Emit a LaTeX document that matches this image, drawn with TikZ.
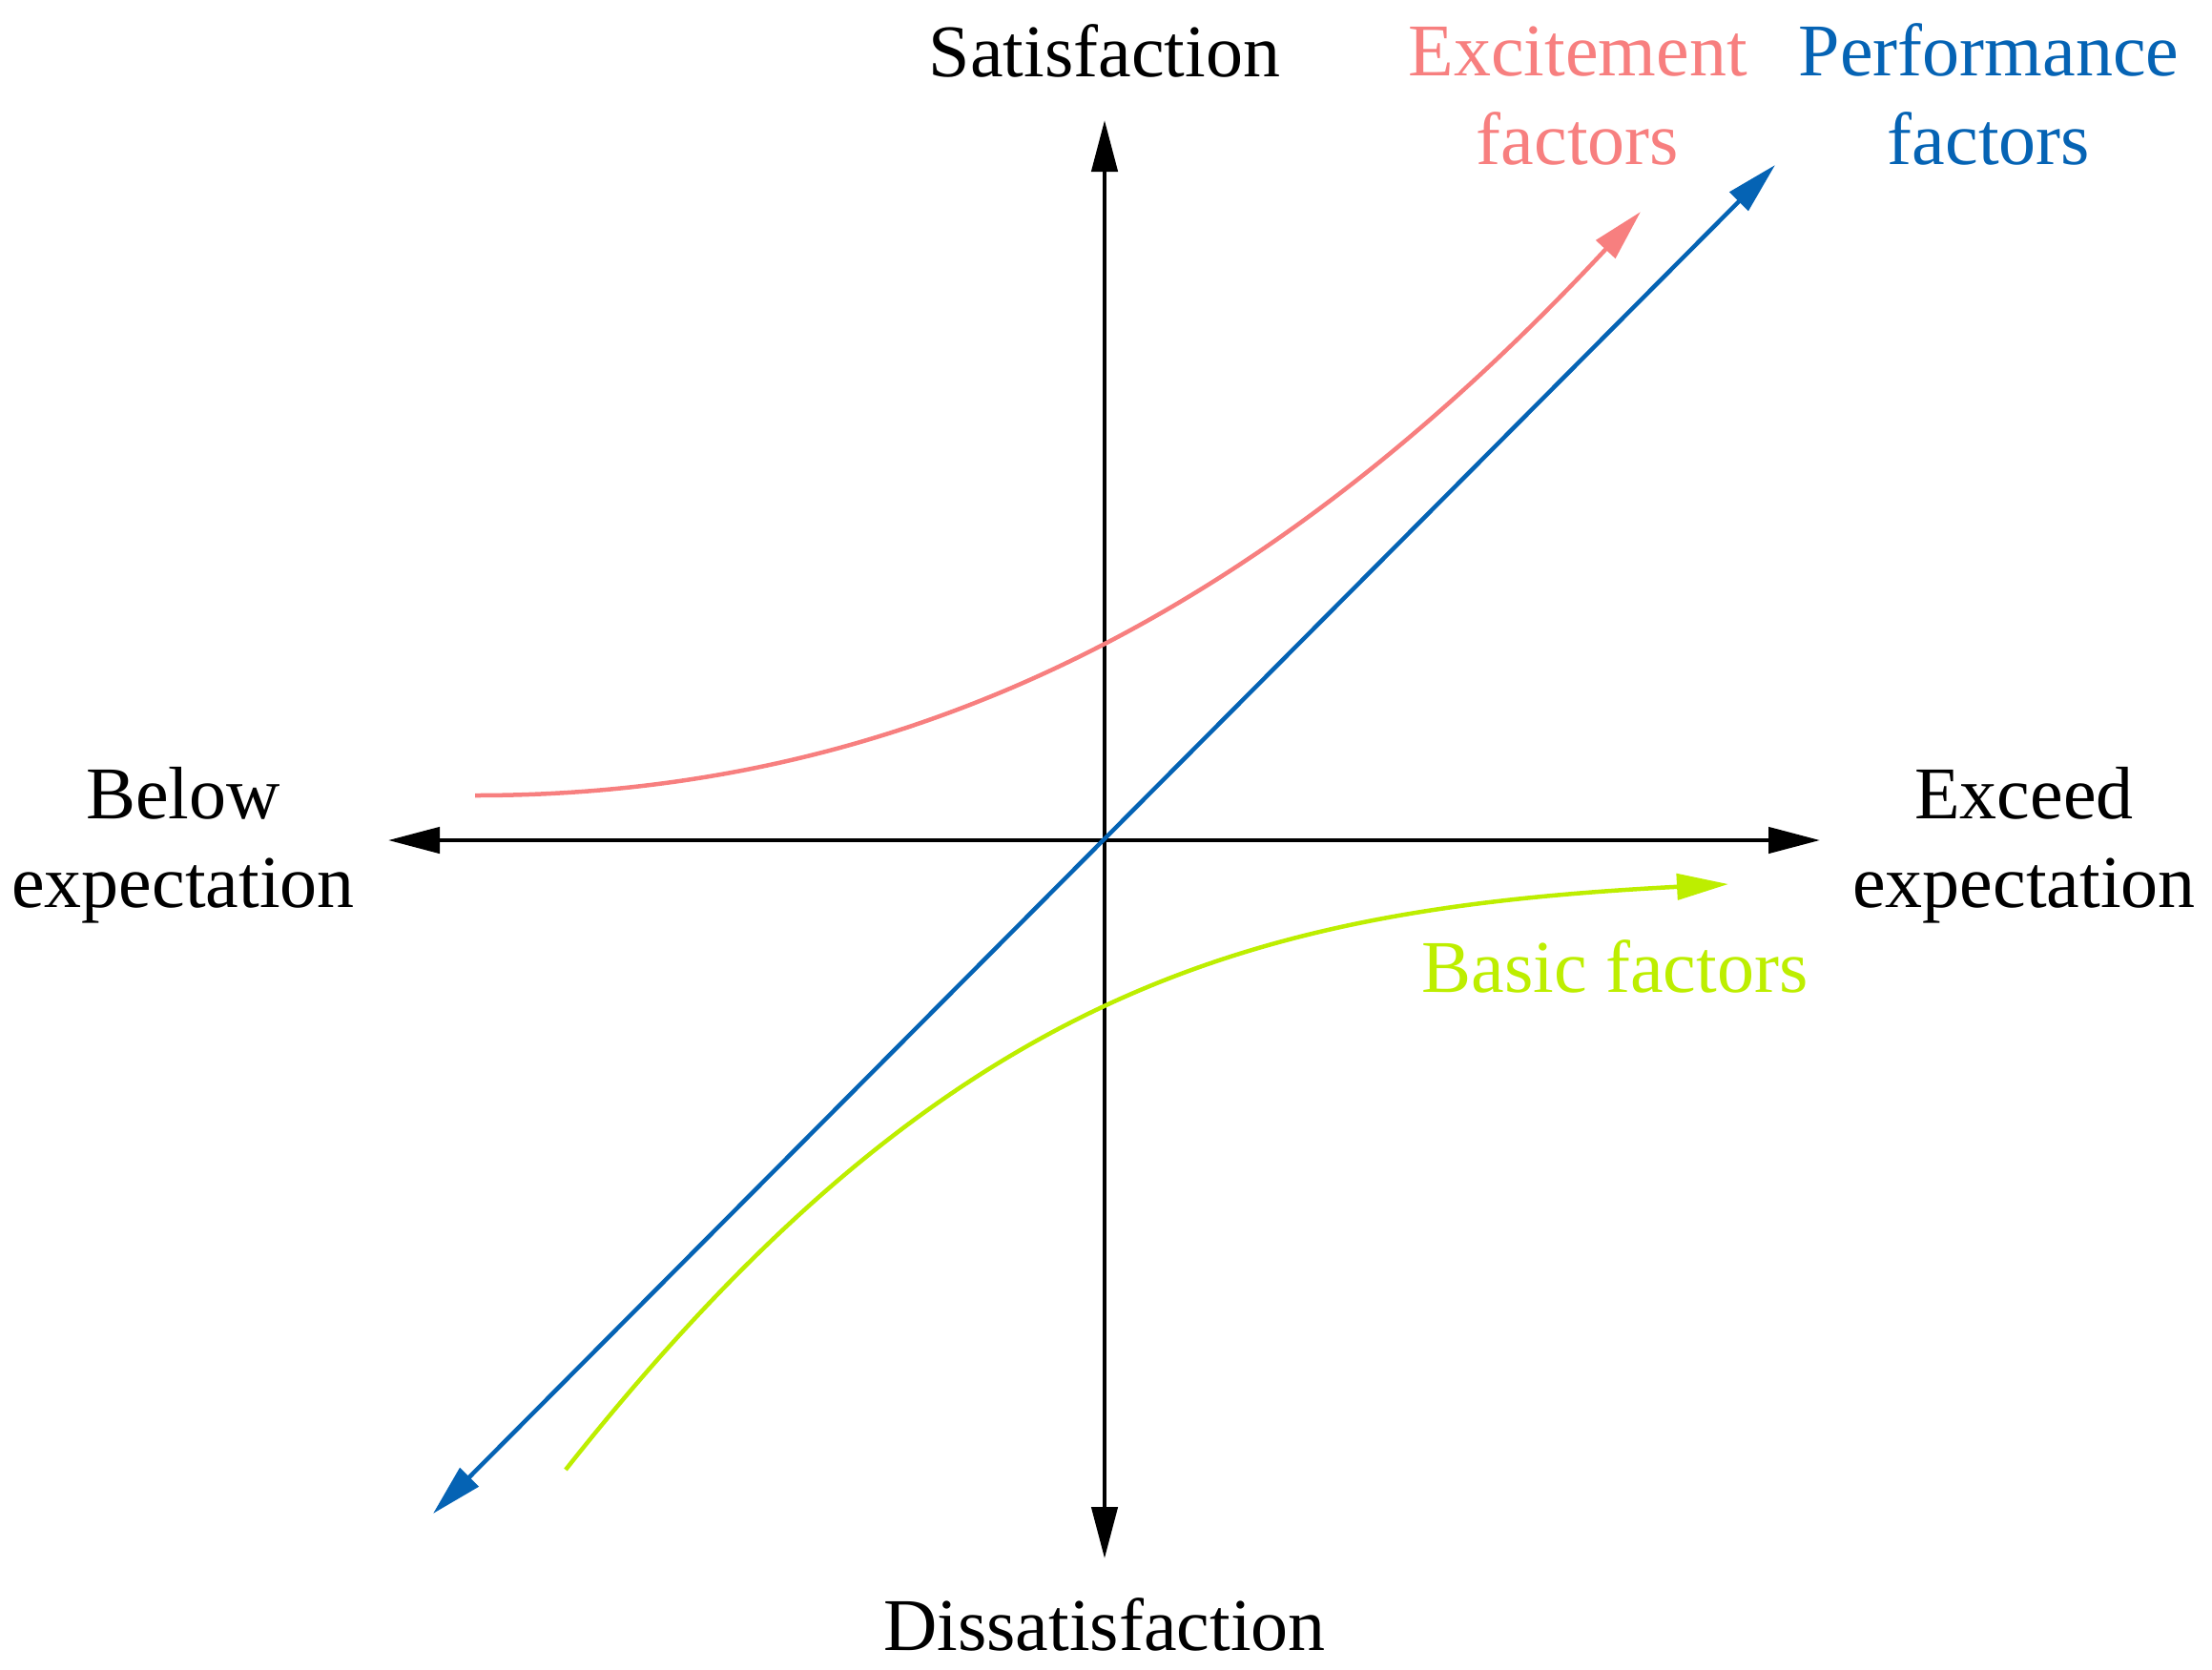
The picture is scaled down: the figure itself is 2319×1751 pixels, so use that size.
\documentclass[tikz,border=0pt]{standalone}
\usepackage{fontspec}
\setmainfont{Liberation Serif}
\usetikzlibrary{arrows.meta}
\definecolor{excite}{HTML}{F77F7F}
\definecolor{perf}{HTML}{0563B4}
\definecolor{basic}{HTML}{BDEE00}
\tikzset{
  tip/.style={-{Triangle[length=54pt,width=27pt]}},
  bitip/.style={{Triangle[length=54pt,width=27pt]}-{Triangle[length=54pt,width=27pt]}},
  lbl/.style={font=\fontsize{78}{93}\selectfont, align=center, inner sep=0pt, anchor=base},
  ln/.style={line width=4.5pt},
}
\begin{document}
\begin{tikzpicture}[x=1pt,y=-1pt]
\useasboundingbox (0,0) rectangle (2319,1751);
% axes
\coordinate (O) at (1158,881);
\coordinate (L) at (407,881);
\coordinate (R) at (1908,881);
\coordinate (T) at (1158,126);
\coordinate (B) at (1158,1634);
\draw[ln, bitip] (L) -- (R);
\draw[ln, bitip] (B) -- (T);
% performance
\coordinate (p1) at (454,1587);
\coordinate (p2) at (1861,173);
\draw[perf, ln, bitip] (p1) -- (p2);
% excitement
\coordinate (e1) at (498,834);
\coordinate (e2) at (1720,222);
\draw[excite, ln, tip] (e1) .. controls (948,834) and (1326,645) .. (e2);
% basic
\coordinate (b1) at (593,1541);
\coordinate (b2) at (1812,927);
\draw[basic, ln, tip] (b1) .. controls (993,1035) and (1313,953) .. (b2);
% labels
\node[lbl] (sat) at (1158,80) {Satisfaction};
\node[lbl] (dis) at (1158,1730) {Dissatisfaction};
\node[lbl] (below) at (192,951) {Below\\expectation};
\node[lbl] (exceed) at (2122,951) {Exceed\\expectation};
\node[lbl, text=excite] (exl) at (1654,172) {Excitement\\factors};
\node[lbl, text=perf] (pfl) at (2085,172) {Performance\\factors};
\node[lbl, text=basic] (bal) at (1693,1040) {Basic factors};
\end{tikzpicture}
\end{document}
